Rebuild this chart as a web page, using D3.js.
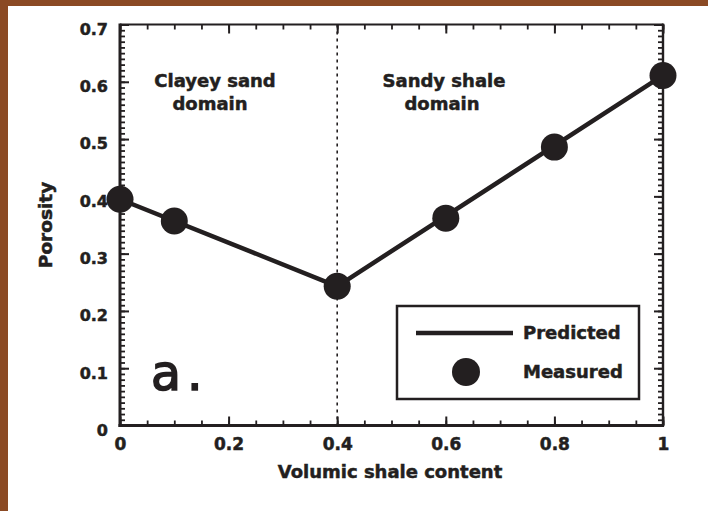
<!DOCTYPE html>
<html>
<head>
<meta charset="utf-8">
<script src="https://cdn.jsdelivr.net/npm/d3@7"></script>
<style>
  html, body { margin: 0; padding: 0; background: #8b4a24; }
  svg { display: block; }
  text { font-family: "DejaVu Sans", sans-serif; fill: #231f20; }
  text.heavy { stroke: #231f20; stroke-width: 0.5px; }
</style>
</head>
<body>
<svg id="chart" width="708" height="511"></svg>
<script>
// ---- data ----
const xTickValues = [0, 0.2, 0.4, 0.6, 0.8, 1];
const xTickLabels = ["0", "0.2", "0.4", "0.6", "0.8", "1"];
const yTickValues = [0, 0.1, 0.2, 0.3, 0.4, 0.5, 0.6, 0.7];
const yTickLabels = ["0", "0.1", "0.2", "0.3", "0.4", "0.5", "0.6", "0.7"];
const measuredX = [0, 0.1, 0.4, 0.6, 0.8, 1.0];
const measuredY = [0.395, 0.357, 0.243, 0.362, 0.486, 0.611];
const predictedX = [0, 0.4, 1.0];
const predictedY = [0.395, 0.243, 0.611];
const domainBoundary = 0.4;
const legendLabels = ["Predicted", "Measured"];
const xTitle = "Volumic shale content";
const yTitle = "Porosity";

// ---- layout ----
const ink = "#231f20";
const svg = d3.select("#chart");
const L = 120, R = 663, T = 24.5, B = 425.5;
const x = d3.scaleLinear().domain([0, 1]).range([L, R]);
const y = d3.scaleLinear().domain([0, 0.7]).range([B, T]);

// background panel
svg.append("rect").attr("x", 0).attr("y", 0).attr("width", 708).attr("height", 511).attr("fill", "#8b4a24");
svg.append("rect").attr("x", 8).attr("y", 6).attr("width", 700).attr("height", 505).attr("fill", "#ffffff");

const minorY = d3.range(0, 0.7001, 0.01).map(v => +v.toFixed(2));
const minorX = d3.range(0, 1.0001, 0.05).map(v => +v.toFixed(2));

function styleAxis(g, w) {
  g.selectAll(".domain").remove();
  g.selectAll(".tick line").attr("stroke", ink).attr("stroke-width", w);
}

// minor ticks
svg.append("g").attr("transform", `translate(${L},0)`)
  .call(d3.axisLeft(y).tickValues(minorY).tickSize(-5).tickFormat(""))
  .call(g => styleAxis(g, 1.8));
svg.append("g").attr("transform", `translate(${R},0)`)
  .call(d3.axisRight(y).tickValues(minorY).tickSize(-5).tickFormat(""))
  .call(g => styleAxis(g, 1.8));
svg.append("g").attr("transform", `translate(0,${B})`)
  .call(d3.axisBottom(x).tickValues(minorX).tickSize(-5).tickFormat(""))
  .call(g => styleAxis(g, 1.8));
svg.append("g").attr("transform", `translate(0,${T})`)
  .call(d3.axisTop(x).tickValues(minorX).tickSize(-5).tickFormat(""))
  .call(g => styleAxis(g, 1.8));

// major ticks + labels
const yAxis = svg.append("g").attr("transform", `translate(${L},0)`)
  .call(d3.axisLeft(y).tickValues(yTickValues).tickSize(-9).tickPadding(12)
        .tickFormat((d, i) => yTickLabels[i]));
styleAxis(yAxis, 2);
yAxis.selectAll("text").attr("class", "heavy").attr("font-family", "DejaVu Sans").attr("font-weight", "bold")
  .attr("font-size", 16).attr("dy", "0.62em").attr("fill", ink);

const xAxis = svg.append("g").attr("transform", `translate(0,${B})`)
  .call(d3.axisBottom(x).tickValues(xTickValues).tickSize(-9).tickPadding(12)
        .tickFormat((d, i) => xTickLabels[i]));
styleAxis(xAxis, 2);
xAxis.selectAll("text").attr("class", "heavy").attr("font-family", "DejaVu Sans").attr("font-weight", "bold")
  .attr("font-size", 17).attr("dy", "0.74em").attr("fill", ink);

svg.append("g").attr("transform", `translate(${R},0)`)
  .call(d3.axisRight(y).tickValues(yTickValues).tickSize(-9).tickFormat(""))
  .call(g => styleAxis(g, 2));
svg.append("g").attr("transform", `translate(0,${T})`)
  .call(d3.axisTop(x).tickValues(xTickValues).tickSize(-9).tickFormat(""))
  .call(g => styleAxis(g, 2));

// frame
svg.append("line").attr("x1", L).attr("x2", R).attr("y1", T).attr("y2", T).attr("stroke", ink).attr("stroke-width", 2.2);
svg.append("line").attr("x1", R).attr("x2", R).attr("y1", T - 1).attr("y2", B + 1).attr("stroke", ink).attr("stroke-width", 2.4);
svg.append("line").attr("x1", L).attr("x2", L).attr("y1", T - 1).attr("y2", B + 1.5).attr("stroke", ink).attr("stroke-width", 3);
svg.append("line").attr("x1", L - 1.5).attr("x2", R + 1).attr("y1", B).attr("y2", B).attr("stroke", ink).attr("stroke-width", 3);

// dotted boundary
svg.append("line").attr("x1", x(domainBoundary)).attr("x2", x(domainBoundary))
  .attr("y1", y(0.7)).attr("y2", y(0)).attr("stroke", ink).attr("stroke-width", 1.6)
  .attr("stroke-dasharray", "3,4");

// domain texts
const domainText = [
  {lines: ["Clayey sand", "domain"], xs: [215, 210]},
  {lines: ["Sandy shale", "domain"], xs: [444, 442]}
];
domainText.forEach(d => {
  d.lines.forEach((t, i) => {
    svg.append("text").attr("class", "heavy").attr("x", d.xs[i]).attr("y", 87 + i * 23)
      .attr("text-anchor", "middle").attr("font-weight", "bold").attr("font-size", 18).text(t);
  });
});

// "a." label
svg.append("text").attr("x", 151).attr("y", 390).attr("font-size", 49)
  .attr("stroke", ink).attr("stroke-width", 1.6).attr("letter-spacing", 6).text("a.");

// predicted line
const lineGen = d3.line().x(d => x(d[0])).y(d => y(d[1]));
svg.append("path").datum(predictedX.map((v, i) => [v, predictedY[i]]))
  .attr("d", lineGen).attr("fill", "none").attr("stroke", ink)
  .attr("stroke-width", 4.5).attr("stroke-linejoin", "round");

// measured points
svg.append("g").selectAll("circle").data(measuredX.map((v, i) => [v, measuredY[i]]))
  .join("circle").attr("cx", d => x(d[0])).attr("cy", d => y(d[1])).attr("r", 13.5).attr("fill", ink);

// legend
const lg = svg.append("g");
lg.append("rect").attr("x", 397).attr("y", 306).attr("width", 242).attr("height", 93)
  .attr("fill", "#fff").attr("stroke", ink).attr("stroke-width", 2.5);
lg.append("line").attr("x1", 416).attr("x2", 513).attr("y1", 333).attr("y2", 333)
  .attr("stroke", ink).attr("stroke-width", 4.5);
lg.append("circle").attr("cx", 466).attr("cy", 372).attr("r", 14).attr("fill", ink);
lg.append("text").attr("class", "heavy").attr("x", 523).attr("y", 339).attr("font-weight", "bold").attr("font-size", 18).text(legendLabels[0]);
lg.append("text").attr("class", "heavy").attr("x", 523).attr("y", 378).attr("font-weight", "bold").attr("font-size", 18).text(legendLabels[1]);

// axis titles
svg.append("text").attr("class", "heavy").attr("x", 390).attr("y", 478).attr("text-anchor", "middle")
  .attr("font-weight", "bold").attr("font-size", 18).text(xTitle);
svg.append("text").attr("class", "heavy").attr("transform", "translate(52,225) rotate(-90)").attr("text-anchor", "middle")
  .attr("font-weight", "bold").attr("font-size", 18.5).text(yTitle);
</script>
</body>
</html>
